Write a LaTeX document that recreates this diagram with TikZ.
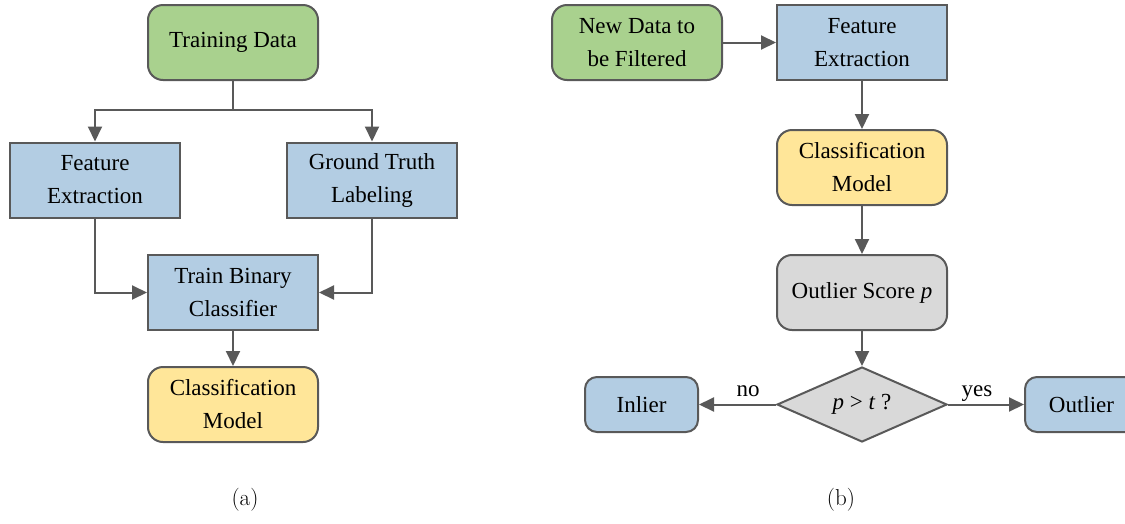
\documentclass[tikz,border=0pt]{standalone}
\usepackage{fontspec}
\newfontfamily\tnr{Liberation Serif}
\usetikzlibrary{arrows.meta,shapes.geometric}
\definecolor{cgreen}{HTML}{A9D18E}
\definecolor{cblue}{HTML}{B3CDE3}
\definecolor{cyellow}{HTML}{FFE699}
\definecolor{cgray}{HTML}{D9D9D9}
\definecolor{cline}{HTML}{595959}
\tikzset{
  box/.style={draw=cline, line width=2pt, minimum width=170pt, minimum height=75pt,
    inner sep=0pt, align=center, font=\tnr\fontsize{23}{33}\selectfont},
  rbox/.style={box, rounded corners=15pt},
  sbox/.style={rbox, minimum width=113pt, minimum height=55pt, rounded corners=12pt},
  dbox/.style={box, shape=diamond, aspect=2.27, minimum width=170pt, minimum height=75pt},
  arr/.style={draw=cline, line width=2pt, -{Triangle[width=14pt,length=15pt]}},
  conn/.style={draw=cline, line width=2pt},
  lbl/.style={font=\tnr\fontsize{23}{28}\selectfont, inner sep=0pt, anchor=base},
  captext/.style={font=\fontsize{23}{27}\selectfont, inner sep=0pt}
}
\begin{document}
\begin{tikzpicture}[x=1pt,y=-1pt]
\clip (0,0) rectangle (1125,523);
\fill[white] (0,0) rectangle (1125,523);
% (a)
\node[rbox, fill=cgreen] (td) at (233,42.5) {Training Data};
\node[box, fill=cblue] (fe1) at (95,180) {Feature\\Extraction};
\node[box, fill=cblue] (gt) at (372,180) {Ground Truth\\Labeling};
\node[box, fill=cblue] (tb) at (233,292.5) {Train Binary\\Classifier};
\node[rbox, fill=cyellow] (cm1) at (233,404.5) {Classification\\Model};
\coordinate (br) at (233,110);
\draw[conn] (td.south) -- (br);
\draw[arr] (br) -| (fe1.north);
\draw[arr] (br) -| (gt.north);
\draw[arr] (fe1.south) |- (tb.west);
\draw[arr] (gt.south) |- (tb.east);
\draw[arr] (tb.south) -- (cm1.north);
\node[captext] (capa) at (245,500) {(a)};
% (b)
\node[rbox, fill=cgreen] (nd) at (637,42.5) {New Data to\\be Filtered};
\node[box, fill=cblue] (fe2) at (862,42.5) {Feature\\Extraction};
\node[rbox, fill=cyellow] (cm2) at (862,167.5) {Classification\\Model};
\node[rbox, fill=cgray] (os) at (862,292.5) {Outlier Score \textit{p}};
\node[dbox, fill=cgray] (dec) at (862,404.5) {\textit{p} > \textit{t} ?};
\node[sbox, fill=cblue] (in) at (641.5,404.5) {Inlier};
\node[sbox, fill=cblue] (out) at (1081.5,404.5) {Outlier};
\draw[arr] (nd.east) -- (fe2.west);
\draw[arr] (fe2.south) -- (cm2.north);
\draw[arr] (cm2.south) -- (os.north);
\draw[arr] (os.south) -- (dec.north);
\draw[arr] (dec.west) -- (in.east);
\draw[arr] (dec.east) -- (out.west);
\node[lbl] (no) at (748,396) {no};
\node[lbl] (yes) at (977,396) {yes};
\node[captext] (capb) at (841,500) {(b)};
\end{tikzpicture}
\end{document}
